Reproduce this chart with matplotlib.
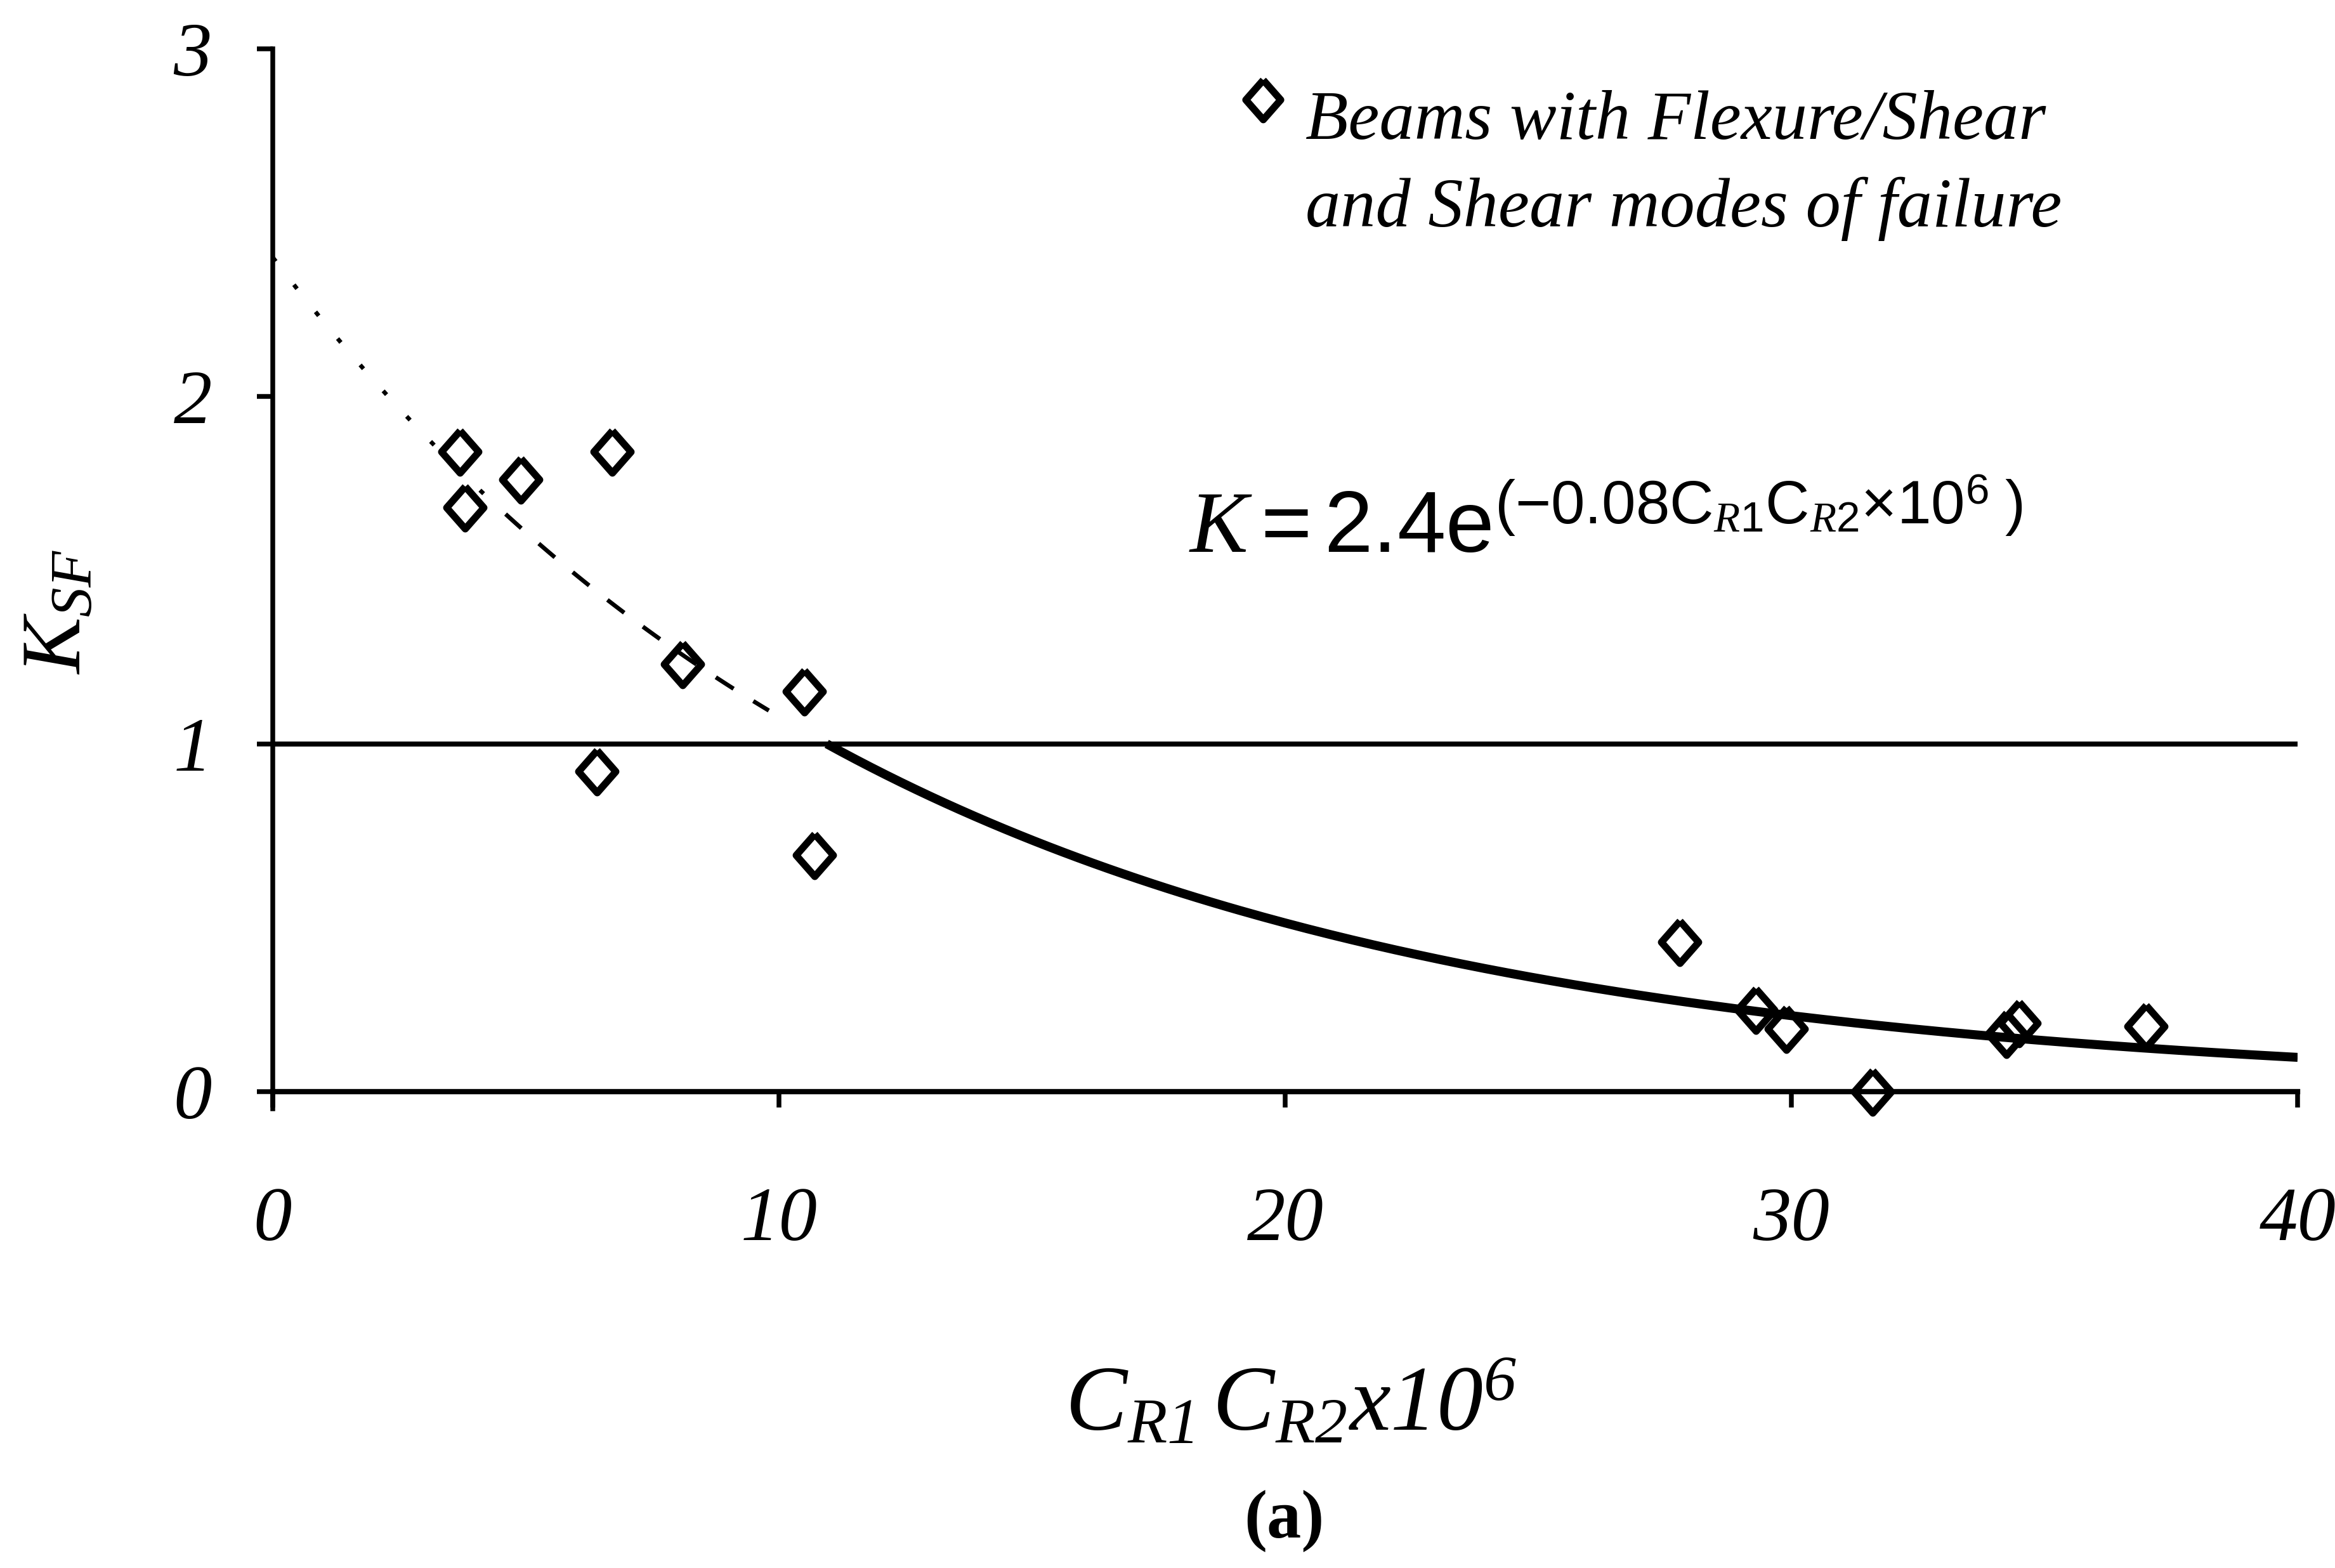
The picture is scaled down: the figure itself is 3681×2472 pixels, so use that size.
import numpy as np
import matplotlib.pyplot as plt

plt.rcParams["font.family"] = "Liberation Serif"
plt.rcParams["mathtext.fontset"] = "custom"
plt.rcParams["mathtext.rm"] = "Liberation Sans"
plt.rcParams["mathtext.it"] = "Liberation Serif:italic"
plt.rcParams["mathtext.sf"] = "Liberation Serif:italic"
plt.rcParams["mathtext.bf"] = "Liberation Serif:bold"

# beams failing in flexure/shear and shear
cr_product = [3.7, 3.8, 4.9, 6.7, 6.4, 8.1, 10.5, 10.7,
              27.8, 29.3, 29.9, 31.6, 34.25, 34.5, 37.0]
k_sf = [1.84, 1.68, 1.76, 1.84, 0.92, 1.23, 1.15, 0.68,
        0.43, 0.235, 0.18, 0.0, 0.166, 0.197, 0.188]

# fitted curve K = a * exp(b * C_R1 C_R2 x10^6)
fit_a = 2.4
fit_b = -0.08
dashed_end = 9.8

xticks = [0, 10, 20, 30, 40]
yticks = [0, 1, 2, 3]

fig = plt.figure(figsize=(12.27, 8.24), dpi=300)
ax = fig.add_axes([0.1168, 0.2929, 0.8672, 0.676])


def fit(x):
    return fit_a * np.exp(fit_b * x)


# dotted start, then dashed, up to where the curve crosses K=1
x_dot = np.linspace(0, 4.3, 60)
ax.plot(x_dot, fit(x_dot), color="black", lw=1.6, dashes=(1.2, 7), zorder=2)
x_dash = np.linspace(4.6, dashed_end, 80)
ax.plot(x_dash, fit(x_dash), color="black", lw=1.6, dashes=(5, 5.5), zorder=2)

x_cross = np.log(1.0 / fit_a) / fit_b
x_solid = np.linspace(x_cross, xticks[-1], 200)
ax.plot(x_solid, fit(x_solid), color="black", lw=3.4, solid_capstyle="butt", zorder=2)

ax.axhline(1.0, color="black", lw=1.9, zorder=1)

diamond = [(0, 1), (0.88, 0), (0, -1), (-0.88, 0), (0, 1)]
ax.plot(cr_product, k_sf, linestyle="none", marker=diamond, markersize=16,
        markerfacecolor="none", markeredgecolor="black", markeredgewidth=2.7,
        clip_on=False, zorder=3)

ax.set_xlim(0, 40)
ax.set_ylim(-0.05, 3)
ax.spines["bottom"].set_position(("data", 0))
ax.spines["top"].set_visible(False)
ax.spines["right"].set_visible(False)
ax.spines["left"].set_linewidth(1.8)
ax.spines["bottom"].set_linewidth(2.0)
ax.set_xticks(xticks)
ax.set_yticks(yticks)
ax.tick_params(axis="x", direction="out", length=6, width=1.8, pad=30)
ax.tick_params(axis="y", direction="out", length=6, width=1.8, pad=17)
for lbl in ax.get_xticklabels() + ax.get_yticklabels():
    lbl.set_fontsize(29)
    lbl.set_fontstyle("italic")

# legend entry
ax.plot([19.56], [2.854], linestyle="none", marker=diamond, markersize=15,
        markerfacecolor="none", markeredgecolor="black", markeredgewidth=2.7,
        clip_on=False)
ax.text(20.4, 2.79, "Beams with Flexure/Shear", fontsize=26.5, style="italic",
        va="center", ha="left")
ax.text(20.4, 2.54, "and Shear modes of failure", fontsize=26.5, style="italic",
        va="center", ha="left")

# fitted equation
ax.text(18.1, 1.55,
        r"$K\mathrm{=2.4e}^{\mathrm{(-0.08C}_{\mathit{R1}}\mathrm{C}_{\mathit{R2}}"
        r"\mathrm{\times10}^{6}\mathrm{\ )}}$",
        fontsize=33, va="baseline", ha="left")

fig.text(0.0255, 0.61, r"$K_{SF}$", fontsize=32, rotation=90,
         ha="center", va="center")
fig.text(0.553, 0.103, r"$\mathsf{C_{R1}\,C_{R2}x10^{6}}$", fontsize=35,
         ha="center", va="center")
fig.text(0.55, 0.03, "(a)", fontsize=26, fontweight="bold",
         ha="center", va="center")

fig.savefig("out.png", dpi=300)
